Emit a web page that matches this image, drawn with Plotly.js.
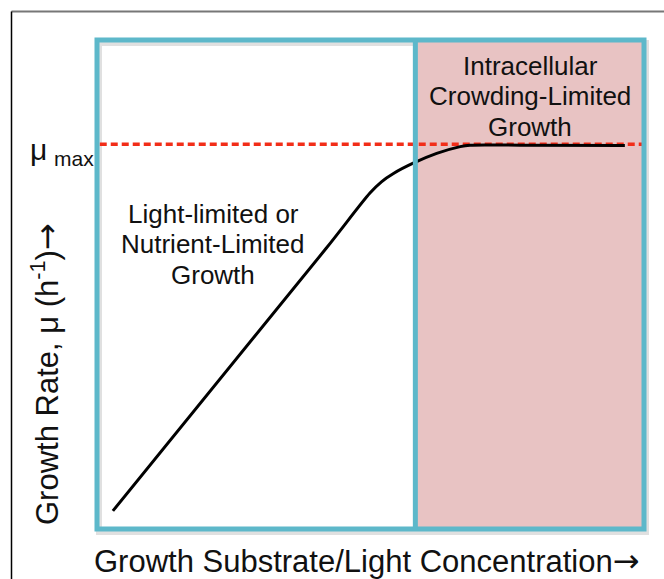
<!DOCTYPE html>
<html>
<head>
<meta charset="utf-8">
<script src="https://cdn.plot.ly/plotly-3.0.1.min.js"></script>
<style>html,body{margin:0;padding:0;background:#fff;}#chart{width:664px;height:579px;}</style>
</head>
<body>
<div id="chart"></div>
<script>
// Growth curve (arbitrary units)
var substrate = [2.9, 41.9, 49.9, 52.0, 54.2, 57.8, 62.1, 66.4, 68.2, 77.3, 96.5];
var growthRate = [3.7, 57.4, 68.7, 71.0, 72.7, 74.8, 76.8, 78.2, 78.5, 78.5, 78.4];
var muMax = 78.7;
var muMaxX = [0.5, 100];
var regionBoundary = 58.2; // substrate level where crowding limitation begins
var leftLabel = ["Light-limited or", "Nutrient-Limited", "Growth"];
var rightLabel = ["Intracellular", "Crowding-Limited", "Growth"];
var arrow = '<span style="font-family:DejaVu Sans;font-size:32px">\u2192</span>';
var xTitle = "Growth Substrate/Light Concentration" + arrow;
var yTitle = "Growth Rate, \u03bc (h<sup>-1</sup>)" + arrow;

var cyan = '#5db8ca', pink = '#e8c3c3', red = '#f22d18';
var font = 'Liberation Sans, Arial, sans-serif';

var traces = [
  {x: muMaxX, y: [muMax, muMax], mode: 'lines', line: {color: red, width: 3.5, dash: '7px,4px'}, hoverinfo: 'skip'},
  {x: substrate, y: growthRate, mode: 'lines', line: {color: '#000', width: 3, shape: 'spline', smoothing: 0.8}, hoverinfo: 'skip'}
];

function py(p){ return (529 - p) / 489; }
function px(p){ return (p - 97) / 547; }

var annotations = [];
leftLabel.forEach(function(t, i){
  annotations.push({xref: 'paper', yref: 'paper', x: px(213), y: py(214 + i*30.5), text: t, showarrow: false,
    font: {family: font, size: 26, color: '#111'}, xanchor: 'center', yanchor: 'middle'});
});
rightLabel.forEach(function(t, i){
  annotations.push({xref: 'paper', yref: 'paper', x: px(530), y: py(66 + i*30.5), text: t, showarrow: false,
    font: {family: font, size: 26, color: '#111'}, xanchor: 'center', yanchor: 'middle'});
});
annotations.push({xref: 'paper', yref: 'y', x: px(28), y: muMax, text: '\u03bc', showarrow: false,
  font: {family: font, size: 30, color: '#111'}, xanchor: 'left', yanchor: 'middle', yshift: -5});
annotations.push({xref: 'paper', yref: 'y', x: px(52), y: muMax, text: 'max', showarrow: false,
  font: {family: font, size: 21, color: '#111'}, xanchor: 'left', yanchor: 'middle', yshift: -14});
// axis titles
annotations.push({xref: 'paper', yref: 'paper', x: px(367), y: py(561), text: xTitle, showarrow: false,
  font: {family: font, size: 31, color: '#111'}, xanchor: 'center', yanchor: 'middle'});
annotations.push({xref: 'paper', yref: 'paper', x: px(45), y: py(374), text: yTitle, showarrow: false, textangle: -90,
  font: {family: font, size: 31, color: '#111'}, xanchor: 'center', yanchor: 'middle'});

var shapes = [
  // image frame
  {type: 'line', xref: 'paper', yref: 'paper', x0: px(11.5), x1: 2, y0: py(11.5), y1: py(11.5), line: {color: '#777', width: 2}, layer: 'below'},
  {type: 'line', xref: 'paper', yref: 'paper', x0: px(11.5), x1: px(11.5), y0: py(11.5), y1: -0.5, line: {color: '#000', width: 1.5}, layer: 'below'},
  // shadow
  {type: 'rect', xref: 'paper', yref: 'paper', x0: 2/547, x1: 1 + 2/547, y0: -3/489, y1: 1 - 3/489, line: {color: 'rgba(0,0,0,0.12)', width: 6}, layer: 'below'},
  // crowding region fill
  {type: 'rect', xref: 'x', yref: 'paper', x0: regionBoundary, x1: 100, y0: 0, y1: 1, fillcolor: pink, line: {width: 0}, layer: 'below'},
  // boxes
  {type: 'rect', xref: 'paper', yref: 'paper', x0: 0, x1: 1, y0: 0, y1: 1, line: {color: cyan, width: 5}, layer: 'above'},
  {type: 'line', xref: 'x', yref: 'paper', x0: regionBoundary, x1: regionBoundary, y0: 0, y1: 1, line: {color: cyan, width: 5}, layer: 'above'}
];

var layout = {
  width: 664, height: 579,
  margin: {l: 97, r: 20, t: 40, b: 50},
  paper_bgcolor: '#fff', plot_bgcolor: 'rgba(0,0,0,0)',
  showlegend: false,
  xaxis: {range: [0, 100], showgrid: false, zeroline: false, showticklabels: false, ticks: '', showline: false},
  yaxis: {range: [0, 100], showgrid: false, zeroline: false, showticklabels: false, ticks: '', showline: false},
  shapes: shapes,
  annotations: annotations
};

Plotly.newPlot('chart', traces, layout, {displayModeBar: false, staticPlot: true});
</script>
</body>
</html>
